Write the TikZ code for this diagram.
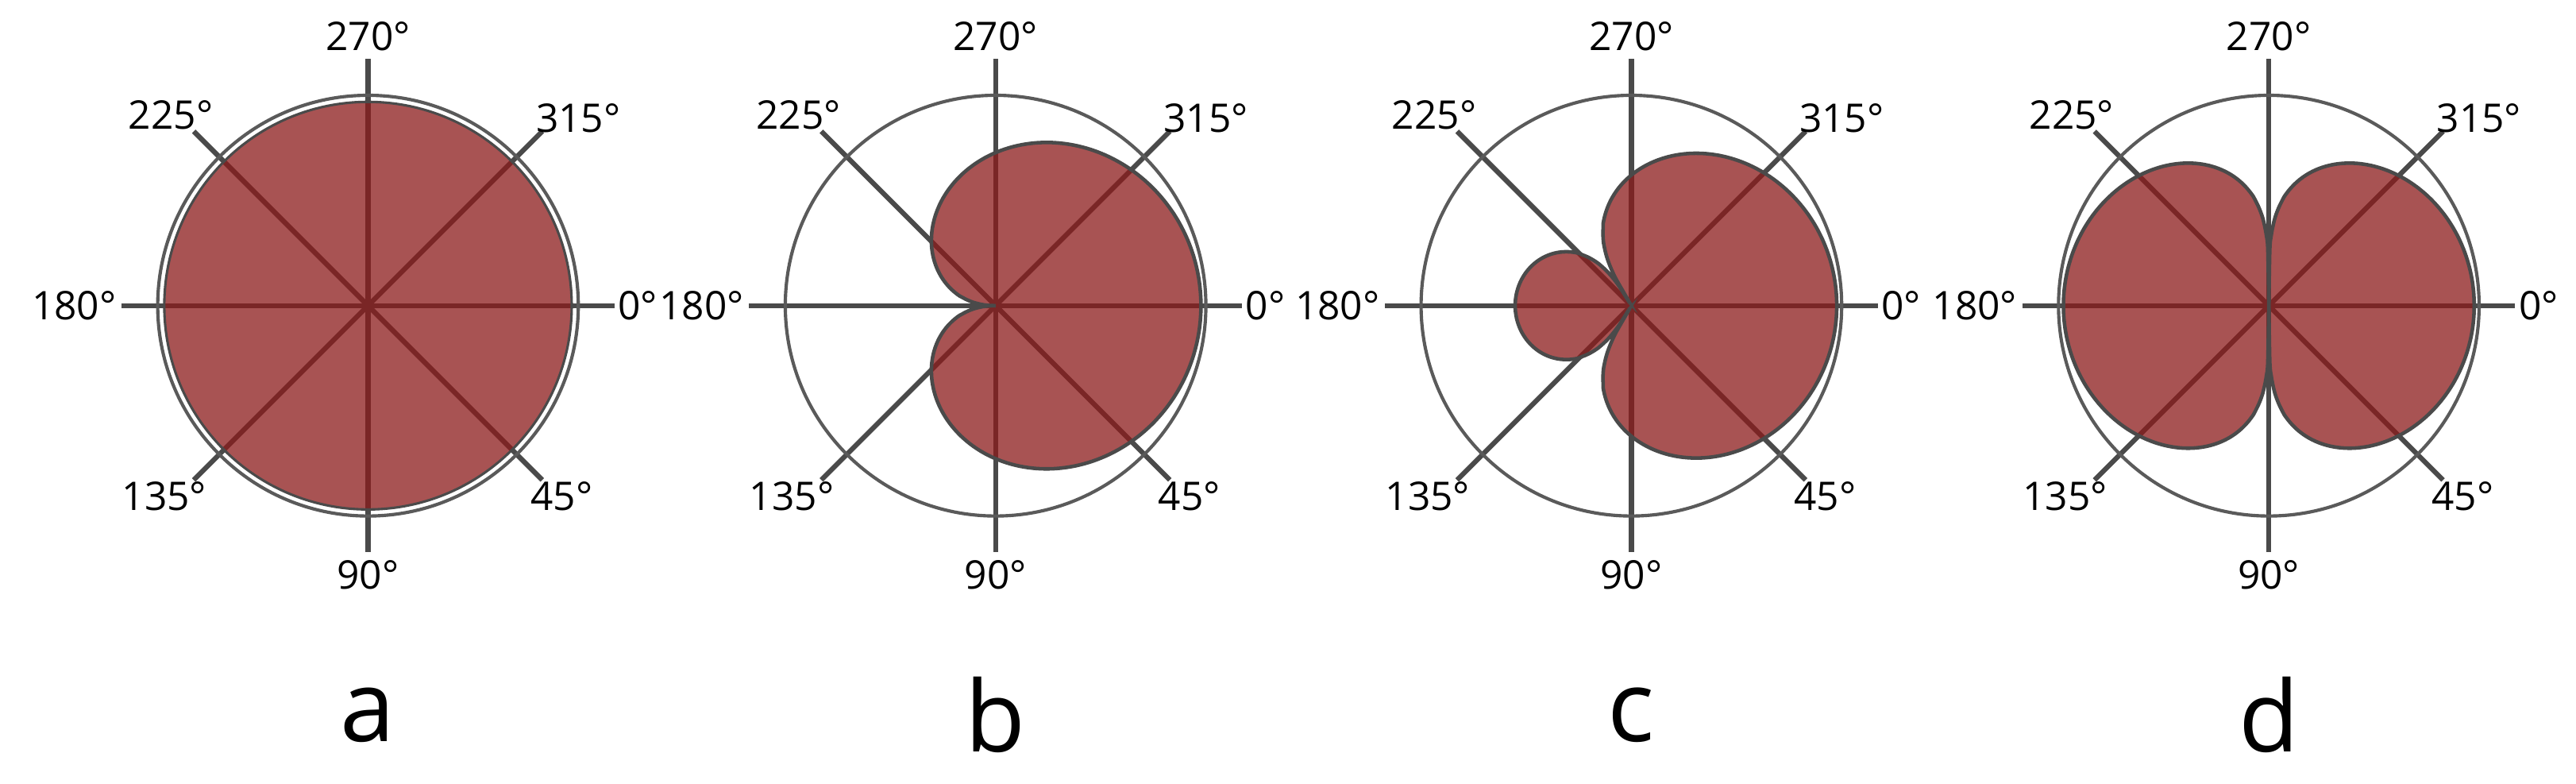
\documentclass[tikz,border=0pt]{standalone}
\usepackage{fontspec}
\setmainfont{Open Sans}
\definecolor{lobe}{HTML}{8B1A1A}
\definecolor{axc}{HTML}{4A4A4A}
\definecolor{ringc}{HTML}{5A5A5A}
\tikzset{
  axis/.style={axc, line width=3pt},
  ring/.style={ringc, line width=2pt},
  lobefill/.style={fill=lobe, fill opacity=0.75, draw=axc, draw opacity=1, line width=2.2pt},
  deg/.style={font=\fontsize{24}{24}\selectfont, inner sep=1pt},
  panel/.style={font=\fontsize{60}{60}\selectfont}
}
\newcommand{\polaraxes}[1]{%
  \begin{scope}[shift={(#1,291)}]
    \coordinate (c) at (0,0);
    \foreach \a in {0,45,...,315} { \coordinate (e\a) at (\a:150); \draw[axis] (c) -- (e\a); }
    \node[deg] (l270) at (0,164) {270°};
    \node[deg] (l90) at (0,-164) {90°};
    \node[deg, anchor=west] (l0) at (151,0) {0°};
    \node[deg, anchor=east] (l180) at (-152,0) {180°};
    \node[deg] (l315) at (128,114) {315°};
    \node[deg] (l225) at (-120,116) {225°};
    \node[deg] (l135) at (-124,-116) {135°};
    \node[deg] (l45) at (118,-116) {45°};
  \end{scope}}
\begin{document}
\begin{tikzpicture}[x=1pt,y=1pt]
\useasboundingbox (0,0) rectangle (1568,477);
\fill[white] (0,0) rectangle (1568,477);
% a
\polaraxes{224}
\draw[ring] (224,291) circle (128);
\fill[lobe, fill opacity=0.75] (224,291) circle (124);
\draw[axc, line width=1.5pt] (224,291) circle (124);
% b
\polaraxes{606}
\draw[ring] (606,291) circle (128);
\draw[lobefill, shift={(606,291)}] plot[domain=-180:180, samples=361, smooth] (\x:{125*abs(cos(\x/2))^0.85}) -- cycle;
% c
\polaraxes{993}
\draw[ring] (993,291) circle (128);
\draw[lobefill, shift={(993,291)}] plot[domain=-180:180, samples=361, smooth] (\x:{(0.34+0.66*cos(\x)>0) ? 125*abs(0.34+0.66*cos(\x))^0.42 : 125*abs(0.34+0.66*cos(\x))^0.5}) -- cycle;
% d
\polaraxes{1381}
\draw[ring] (1381,291) circle (128);
\draw[lobefill, shift={(1381,291)}] plot[domain=-90:90, samples=181, smooth] (\x:{125*abs(cos(\x))^0.32}) -- cycle;
\draw[lobefill, shift={(1381,291)}] plot[domain=90:270, samples=181, smooth] (\x:{125*abs(cos(\x))^0.32}) -- cycle;
\node[panel] (pa) at (224,42) {a};
\node[panel] (pb) at (606,42) {b};
\node[panel] (pc) at (993,42) {c};
\node[panel] (pd) at (1381,42) {d};
\end{tikzpicture}
\end{document}
